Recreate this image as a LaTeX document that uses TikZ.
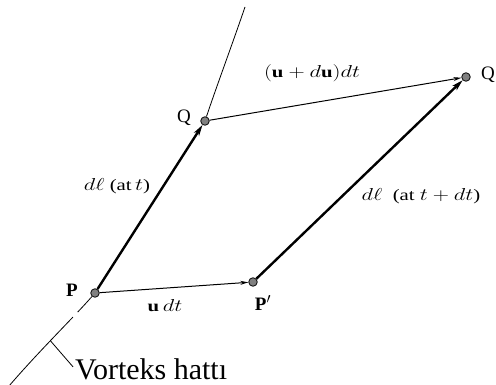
\documentclass[tikz,border=0pt]{standalone}
\usepackage{fontspec}
\setmainfont{Liberation Serif}
\usepackage{graphicx}
\usetikzlibrary{arrows.meta}
\newcommand{\lbwide}[1]{\scalebox{1.3}[1]{#1}}
\begin{document}
\begin{tikzpicture}[x=1pt,y=-1pt,
  ptdot/.style={circle,draw=black!90,fill=black!50,line width=0.9pt,minimum size=8.5pt,inner sep=0pt},
  thickarr/.style={line width=2.4pt,-{Stealth[length=11pt,width=6pt,inset=3pt]}},
  thinarr/.style={line width=1pt,-{Stealth[length=8pt,width=4pt]}},
  vline/.style={line width=0.8pt},
  lab/.style={font=\fontsize{16}{16}\selectfont,inner sep=0pt},
  plab/.style={font=\fontsize{19}{19}\selectfont,inner sep=0pt}]
\useasboundingbox (0,0) rectangle (496,385);
% points
\node[ptdot] (P) at (95,293) {};
\node[ptdot] (Q) at (205,121) {};
\node[ptdot] (P2) at (253,282) {};
\node[ptdot] (Q2) at (466,77) {};
% vortex line
\draw[vline] (Q) .. controls (216,88) and (232,45) .. (245,7);
\draw[vline,dash pattern=on 21pt off 7pt on 400pt] (P) .. controls (75,316) and (40,350) .. (9,386)
  coordinate[pos=0.56] (tk);
% vectors
\draw[thickarr] (P) -- (Q);
\draw[thickarr] (P2) -- (Q2);
\draw[thinarr] (P) -- (P2);
\draw[thinarr] (Q) -- (Q2);
% point labels
\node[plab] (lP) at (72,290) {\textbf{P}};
\node[plab] (lQ) at (184,118) {Q};
\node[plab] (lP2) at (263,303) {\textbf{P}$'$};
\node[plab] (lQ2) at (488,75) {Q};
% vector labels
\node[lab] (lu) at (165,306) {\lbwide{$\mathbf{u}\,dt$}};
\node[lab] (lud) at (312,73) {\lbwide{$(\mathbf{u}+d\mathbf{u})dt$}};
\node[lab] (ldl) at (117,186) {\lbwide{$d\ell$ (at\,$t$)}};
\node[lab] (ldl2) at (421,196) {\lbwide{$d\ell$ \ (at $t+dt$)}};
% vortex line label
\node[font=\fontsize{30}{30}\selectfont,inner sep=0pt,anchor=base west] (vl) at (75,379) {Vorteks hattı};
\draw[vline] (tk) -- ([xshift=-2pt,yshift=2pt]vl.west);
\end{tikzpicture}
\end{document}
